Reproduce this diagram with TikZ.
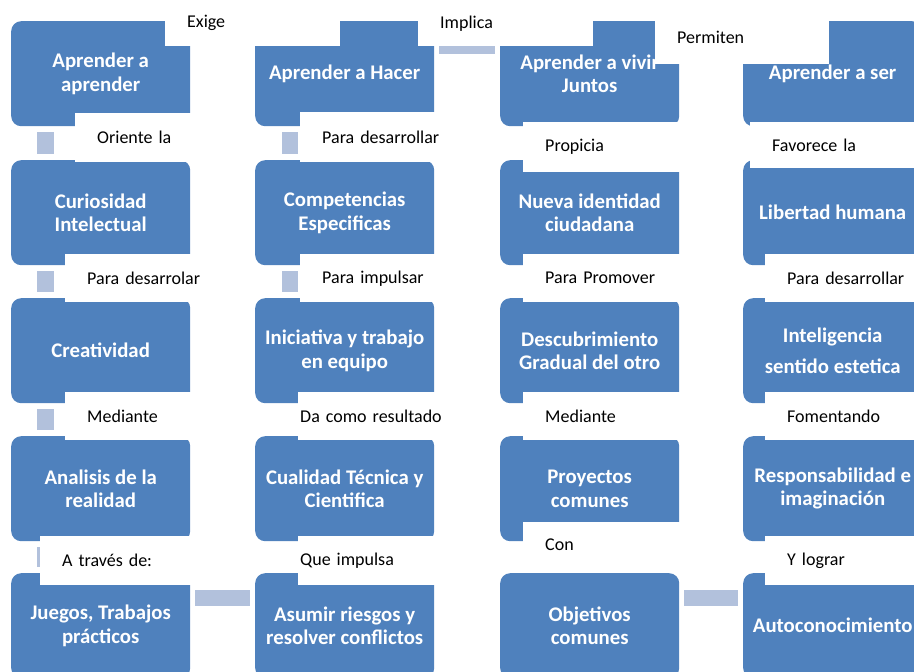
\documentclass[tikz,border=0pt]{standalone}
\usepackage{fontspec}
\setmainfont{Carlito}
\definecolor{boxblue}{RGB}{79,129,189}
\definecolor{linkblue}{RGB}{178,193,220}
\newcommand{\boxfont}{\fontsize{20.8}{23.5}\selectfont\bfseries}
\newcommand{\lblfont}{\fontsize{18}{21}\selectfont}

\begin{document}
\begin{tikzpicture}[x=1pt,y=-1pt,
    box/.style={anchor=north west, minimum width=179pt, minimum height=105pt, inner sep=0pt,
      fill=boxblue, text=white, rounded corners=10pt, align=center, font=\boxfont},
    lbl/.style={anchor=north west, fill=white, inner xsep=22pt, inner ysep=0pt,
      align=left, font=\lblfont},
    link/.style={draw=linkblue, line width=16.5pt}]
  \useasboundingbox (0,0) rectangle (914,672);
  \clip (0,0) rectangle (914,672);

  % Boxes
  \node[box] (aprender) at (11,21) {Aprender a\\aprender};
  \node[box] (hacer) at (255,21) {Aprender a Hacer};
  \node[box] (vivir) at (500,21) {Aprender a vivir\\Juntos};
  \node[box] (ser) at (743,21) {Aprender a ser};

  \node[box] (curiosidad) at (11,160) {Curiosidad\\Intelectual};
  \node[box] (competencias) at (255,160) {Competencias\\Especificas};
  \node[box] (identidad) at (500,160) {Nueva identidad\\ciudadana};
  \node[box] (libertad) at (743,160) {Libertad humana};

  \node[box] (creatividad) at (11,298) {Creatividad};
  \node[box] (iniciativa) at (255,298) {Iniciativa y trabajo\\en equipo};
  \node[box] (descubrimiento) at (500,298) {Descubrimiento\\Gradual del otro};
  \node[box] (inteligencia) at (743,298) {Inteligencia\\[8pt]sentido estetica};

  \node[box] (analisis) at (11,436) {Analisis de la\\realidad};
  \node[box] (cualidad) at (255,436) {Cualidad Técnica y\\Cientifica};
  \node[box] (proyectos) at (500,436) {Proyectos\\comunes};
  \node[box] (responsabilidad) at (743,436) {Responsabilidad e\\imaginación};

  \node[box] (juegos) at (11,573) {Juegos, Trabajos\\prácticos};
  \node[box] (asumir) at (255,573) {Asumir riesgos y\\resolver conflictos};
  \node[box] (objetivos) at (500,573) {Objetivos\\comunes};
  \node[box] (autoconocimiento) at (743,573) {Autoconocimiento};

  % Connectors
  \draw[link] ([xshift=34.5pt,yshift=-6pt]aprender.south west) -- ([xshift=34.5pt,yshift=6pt]curiosidad.north west);
  \draw[link] ([xshift=34.5pt,yshift=-6pt]curiosidad.south west) -- ([xshift=34.5pt,yshift=6pt]creatividad.north west);
  \draw[link] ([xshift=34.5pt,yshift=-6pt]creatividad.south west) -- ([xshift=34.5pt,yshift=6pt]analisis.north west);
  \draw[link] ([xshift=34.5pt,yshift=-6pt]analisis.south west) -- ([xshift=34.5pt,yshift=6pt]juegos.north west);
  \draw[link] ([xshift=35pt,yshift=-6pt]hacer.south west) -- ([xshift=35pt,yshift=6pt]competencias.north west);
  \draw[link] ([xshift=35pt,yshift=-6pt]competencias.south west) -- ([xshift=35pt,yshift=6pt]iniciativa.north west);
  \draw[link] ([xshift=5pt,yshift=27.5pt]hacer.east) -- ([xshift=-5pt,yshift=27.5pt]vivir.west);
  \draw[link] ([xshift=5pt,yshift=27.5pt]juegos.east) -- ([xshift=-5pt,yshift=27.5pt]asumir.west);
  \draw[link] ([xshift=5pt,yshift=27.5pt]objetivos.east) -- ([xshift=-5pt,yshift=27.5pt]autoconocimiento.west);

  % Labels
  \node[lbl, text width=131pt, minimum height=46pt] (exige) at (165,0) {Exige};
  \node[lbl, text width=131pt, minimum height=46pt] (implica) at (418,0) {Implica};
  \node[lbl, text width=130pt, minimum height=54pt] (permiten) at (655,10) {Permiten};

  \node[lbl, text width=131pt, minimum height=49pt] (oriente) at (75,113) {Oriente la};
  \node[lbl, text width=131pt, minimum height=50pt] (desarrollar) at (300,112) {Para desarrollar};
  \node[lbl, text width=173pt, minimum height=50pt] (propicia) at (523,122) {Propicia};
  \node[lbl, text width=126pt, minimum height=46pt] (favorece) at (750,122) {Favorece la};

  \node[lbl, text width=141pt, minimum height=48pt] (desarrolar) at (65,254) {Para desarrolar};
  \node[lbl, text width=146pt, minimum height=48pt] (impulsar) at (300,254) {Para impulsar};
  \node[lbl, text width=173pt, minimum height=48pt] (promover) at (523,254) {Para Promover};
  \node[lbl, text width=130pt, minimum height=48pt] (desarrollarb) at (765,254) {Para desarrollar};

  \node[lbl, text width=141pt, minimum height=48pt] (mediante) at (65,392) {Mediante};
  \node[lbl, inner xsep=2pt, text width=186pt, minimum height=48pt] (resultado) at (298,392) {Da como resultado};
  \node[lbl, text width=173pt, minimum height=48pt] (medianteb) at (523,392) {Mediante};
  \node[lbl, text width=130pt, minimum height=48pt] (fomentando) at (765,392) {Fomentando};

  \node[lbl, text width=166pt, minimum height=49pt] (traves) at (40,536) {A través de:};
  \node[lbl, inner xsep=2pt, text width=186pt, minimum height=49pt] (impulsa) at (298,536) {Que impulsa};
  \node[lbl, text width=173pt, minimum height=46pt] (con) at (523,522) {Con};
  \node[lbl, text width=130pt, minimum height=49pt] (lograr) at (765,536) {Y lograr};
\end{tikzpicture}
\end{document}
